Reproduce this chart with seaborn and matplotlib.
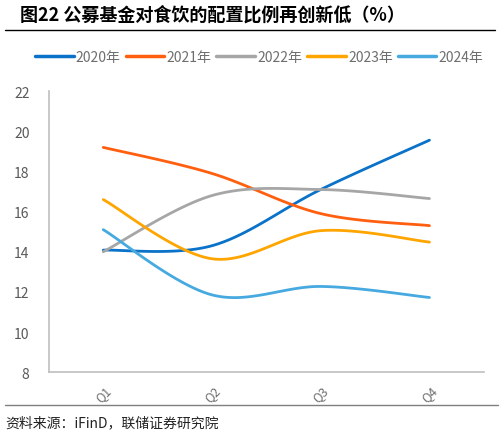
import numpy as np
import pandas as pd
import matplotlib
matplotlib.use("Agg")
import matplotlib.pyplot as plt
import seaborn as sns
from matplotlib.lines import Line2D

# =========================
# DATA
# =========================

quarters = ["Q1", "Q2", "Q3", "Q4"]
years = ["2020年", "2021年", "2022年", "2023年", "2024年"]

y2020 = [14.08, 14.3, 17.1, 19.56]
y2021 = [19.2, 17.9, 15.9, 15.3]
y2022 = [14.0, 16.8, 17.1, 16.65]
y2023 = [16.6, 13.65, 15.05, 14.48]
y2024 = [15.1, 11.85, 12.27, 11.72]

colors = ["#0a72c8", "#ff5f0f", "#a6a6a6", "#ffa500", "#46a9e0"]

title = "图22 公募基金对食饮的配置比例再创新低（%）"
source = "资料来源：iFinD，联储证券研究院"

# =========================
# SMOOTH LINES (Excel-like)
# =========================

def smooth(xs, ys, n=40):
    p = np.column_stack([xs, ys]).astype(float)
    ext = np.vstack([p[0], p, p[-1]])
    out = []
    for i in range(len(p) - 1):
        p0, p1, p2, p3 = ext[i], ext[i + 1], ext[i + 2], ext[i + 3]
        c1 = p1 + (p2 - p0) / 6
        c2 = p2 - (p3 - p1) / 6
        t = np.linspace(0, 1, n)[:, None]
        seg = ((1 - t) ** 3) * p1 + 3 * ((1 - t) ** 2) * t * c1 \
            + 3 * (1 - t) * t ** 2 * c2 + t ** 3 * p2
        out.append(seg if i == 0 else seg[1:])
    return np.vstack(out)

series = [y2020, y2021, y2022, y2023, y2024]
xpos = np.arange(len(quarters))

rows = []
for name, vals in zip(years, series):
    pts = smooth(xpos, vals)
    for x, y in pts:
        rows.append({"year": name, "x": x, "y": y})
df = pd.DataFrame(rows)

# =========================
# PLOT
# =========================

sns.set_style("white")
plt.rcParams["font.family"] = ["Noto Sans CJK SC", "DejaVu Sans"]

fig = plt.figure(figsize=(5.04, 4.39), dpi=100)
ax = fig.add_axes([0.097, 0.150, 0.863, 0.640])

sns.lineplot(data=df, x="x", y="y", hue="year",
             palette=colors, hue_order=years, sort=False, estimator=None,
             linewidth=2.0, legend=False, ax=ax)

ax.set_xlim(-0.5, len(quarters) - 0.5)
ax.set_ylim(8, 22)
ax.set_yticks(range(8, 23, 2))
ax.set_xticks(xpos)
ax.set_xticklabels(quarters, rotation=45, color="#6e6e6e", fontsize=9)
ax.set_xticks(np.arange(-0.5, len(quarters), 1), minor=True)
ax.tick_params(axis="x", which="major", length=0, pad=8)
ax.tick_params(axis="x", which="minor", length=4, color="#bfbfbf", width=1)
ax.tick_params(axis="y", length=4, color="#bfbfbf", width=1,
               labelcolor="#595959", labelsize=10, pad=10)
ax.set_xlabel("")
ax.set_ylabel("")

for s in ["top", "right"]:
    ax.spines[s].set_visible(False)
for s in ["left", "bottom"]:
    ax.spines[s].set_color("#bfbfbf")
    ax.spines[s].set_linewidth(1.2)

handles = [Line2D([0], [0], color=c, lw=2.5) for c in colors]
fig.legend(handles, years, loc="center", bbox_to_anchor=(0.514, 0.868),
           ncol=5, frameon=False, fontsize=10, handlelength=2.8,
           handletextpad=0.15, columnspacing=0.35, labelcolor="#6e6e6e")

# title & source
fig.text(0.04, 0.966, title, fontsize=13, fontweight="bold",
         va="center", ha="left", color="#000000")
fig.add_artist(Line2D([0.01, 0.982], [0.929, 0.929], color="black", lw=1.0))
fig.add_artist(Line2D([0.01, 0.988], [0.075, 0.075], color="#7f7f7f", lw=1.0))
fig.text(0.01, 0.036, source, fontsize=10, va="center", ha="left",
         color="#222222")

fig.savefig("out.png", dpi=100)
